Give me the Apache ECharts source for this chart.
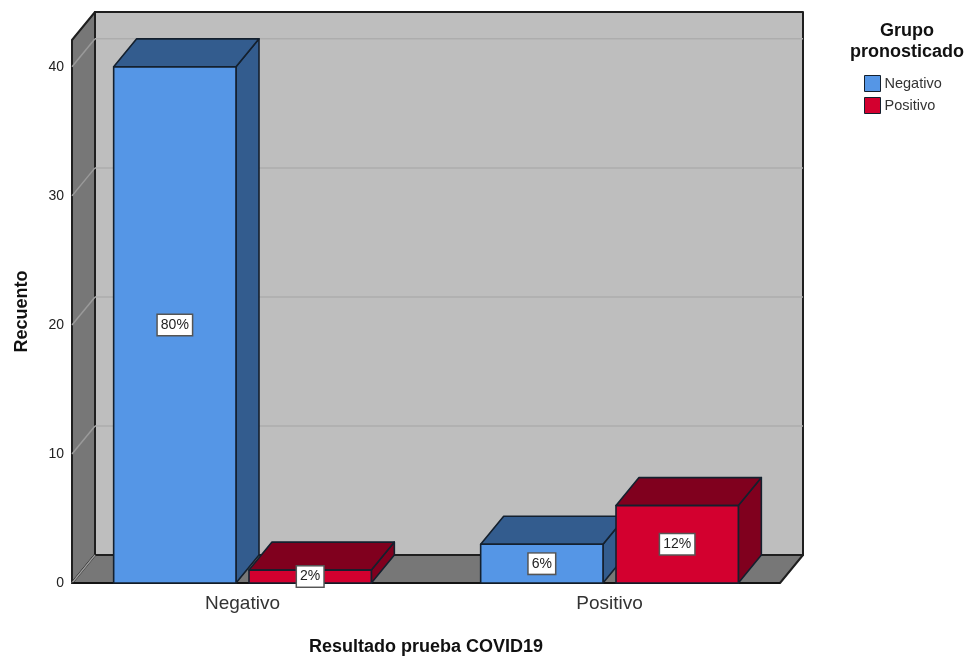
<!DOCTYPE html>
<html>
<head>
<meta charset="utf-8">
<style>html,body{margin:0;padding:0;background:#fff}#c{width:971px;height:661px}</style>
<script src="https://cdn.jsdelivr.net/npm/echarts@6/dist/echarts.min.js"></script>
</head>
<body>
<div id="c"></div>
<script>
const categories = ['Negativo', 'Positivo'];
const negativoValues = [40, 3];
const positivoValues = [1, 6];
const negativoPercent = ['80%', '6%'];
const positivoPercent = ['2%', '12%'];
const yTicks = [0, 10, 20, 30, 40];
const yMax = 42.08;

const DX = 23, DY = -28, INSET = 13;
const FONT = '"Liberation Sans", Arial, sans-serif';

function wallsRender(params, api) {
  const band = api.size([1, 0])[0];
  const c0 = api.coord([0, 0]);
  const c1 = api.coord([1, yMax]);
  const L = c0[0] - band / 2 + INSET;
  const R = c1[0] + band / 2 - INSET;
  const B = c0[1], T = c1[1];
  const edge = '#1f1f1f';
  const poly = (pts, fill, stroke, w) => ({
    type: 'polygon', shape: { points: pts },
    style: { fill: fill, stroke: stroke || edge, lineWidth: w || 2, lineJoin: 'round' }
  });
  const line = (a, b, col) => ({
    type: 'line', shape: { x1: a[0], y1: a[1], x2: b[0], y2: b[1] },
    style: { stroke: col, lineWidth: 1.5 }
  });
  const kids = [
    poly([[L + DX, T + DY], [R + DX, T + DY], [R + DX, B + DY], [L + DX, B + DY]], '#BEBEBE'),
    poly([[L, T], [L + DX, T + DY], [L + DX, B + DY], [L, B]], '#777777'),
    poly([[L, B], [L + DX, B + DY], [R + DX, B + DY], [R, B]], '#777777')
  ];
  yTicks.forEach(function (v) {
    const y = api.coord([0, v])[1];
    kids.push(line([L, y], [L + DX, y + DY], '#9A9A9A'));
    if (v > 0) kids.push(line([L + DX, y + DY], [R + DX, y + DY], '#ADADAD'));
  });
  kids.push(line([L, B], [R, B], '#111111'));
  return { type: 'group', children: kids };
}

function barRender(sign, front, dark, pct) {
  return function (params, api) {
    const band = api.size([1, 0])[0];
    const w = band / 3;
    const gap = 13;
    const p = api.coord([api.value(0), api.value(1)]);
    const base = api.coord([api.value(0), 0]);
    const x0 = p[0] + (sign < 0 ? -w - gap / 2 : gap / 2);
    const x1 = x0 + w;
    const yT = p[1], yB = base[1];
    const st = (f) => ({ fill: f, stroke: '#14202e', lineWidth: 1.6, lineJoin: 'round' });
    return {
      type: 'group',
      children: [
        { type: 'polygon', shape: { points: [[x1, yT], [x1 + DX, yT + DY], [x1 + DX, yB + DY], [x1, yB]] }, style: st(dark) },
        { type: 'polygon', shape: { points: [[x0, yT], [x0 + DX, yT + DY], [x1 + DX, yT + DY], [x1, yT]] }, style: st(dark) },
        { type: 'rect', shape: { x: x0, y: yT, width: w, height: yB - yT }, style: st(front) },
        {
          type: 'text', x: (x0 + x1) / 2, y: (yT + yB) / 2,
          style: {
            text: pct[params.dataIndex], fill: '#222', font: '14px ' + FONT,
            align: 'center', verticalAlign: 'middle',
            backgroundColor: '#fff', borderColor: '#555', borderWidth: 1.5,
            padding: [3, 3, 3, 3]
          }
        }
      ]
    };
  };
}

const chart = echarts.init(document.getElementById('c'), null, { renderer: 'canvas' });
chart.setOption({
  animation: false,
  backgroundColor: '#fff',
  title: {
    text: 'Grupo\npronosticado', left: 902, top: 16, textAlign: 'center',
    textStyle: { fontFamily: FONT, fontSize: 18, fontWeight: 'bold', color: '#111', lineHeight: 21 }
  },
  legend: {
    left: 859, top: 70, orient: 'vertical', itemWidth: 16, itemHeight: 16, itemGap: 5,
    textStyle: { fontFamily: FONT, fontSize: 14.5, color: '#333', padding: [0, 0, 0, -1] },
    data: [
      { name: 'Negativo', icon: 'rect', itemStyle: { color: '#5596E6', borderColor: '#14202e', borderWidth: 1 } },
      { name: 'Positivo', icon: 'rect', itemStyle: { color: '#D3002F', borderColor: '#14202e', borderWidth: 1 } }
    ]
  },
  grid: { left: 59, right: 178, top: 40, bottom: 74 },
  xAxis: {
    type: 'category', data: categories,
    name: 'Resultado prueba COVID19', nameLocation: 'middle', nameGap: 55,
    nameTextStyle: { fontFamily: FONT, fontSize: 18, fontWeight: 'bold', color: '#111' },
    axisLine: { show: false }, axisTick: { show: false },
    axisLabel: { fontFamily: FONT, fontSize: 19, color: '#333', margin: 11 },
    splitLine: { show: false }
  },
  yAxis: {
    type: 'value', min: 0, max: yMax, offset: -13,
    name: 'Recuento', nameLocation: 'middle', nameRotate: 90, nameGap: 41,
    nameTextStyle: { fontFamily: FONT, fontSize: 18, fontWeight: 'bold', color: '#111' },
    axisLine: { show: false }, axisTick: { show: false },
    axisLabel: { fontFamily: FONT, fontSize: 14, color: '#222', margin: 8, customValues: yTicks },
    splitLine: { show: false }
  },
  series: [
    { type: 'custom', name: 'walls', silent: true, clip: false, z: 1, data: [[0, 0]], renderItem: wallsRender },
    {
      type: 'custom', name: 'Negativo', z: 2, clip: false,
      itemStyle: { color: '#5596E6' },
      encode: { x: 0, y: 1 },
      data: negativoValues.map((v, i) => [i, v]),
      renderItem: barRender(-1, '#5596E6', '#335C8E', negativoPercent)
    },
    {
      type: 'custom', name: 'Positivo', z: 3, clip: false,
      itemStyle: { color: '#D3002F' },
      encode: { x: 0, y: 1 },
      data: positivoValues.map((v, i) => [i, v]),
      renderItem: barRender(1, '#D3002F', '#80001E', positivoPercent)
    }
  ]
});
</script>
</body>
</html>
